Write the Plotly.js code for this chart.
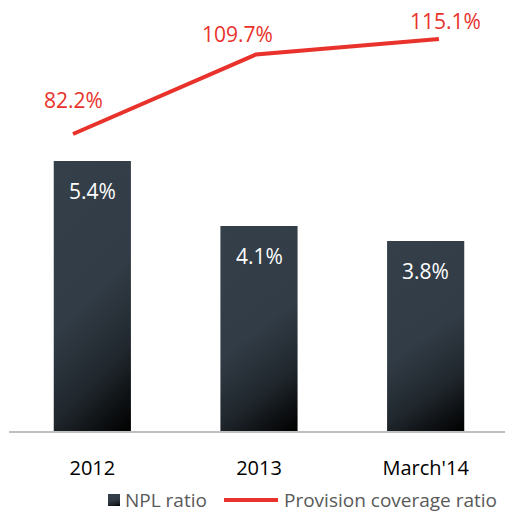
<!DOCTYPE html>
<html>
<head>
<meta charset="utf-8">
<script src="https://cdn.plot.ly/plotly-3.0.1.min.js"></script>
<style>
html,body{margin:0;padding:0;overflow:hidden;background:#fff;width:505px;height:513px;}
#chart{width:509px;height:513px;}
</style>
</head>
<body>
<div id="chart"></div>
<script>
// ---- data ----
const categories = ['2012', '2013', "March'14"];
const nplRatio = [5.4, 4.1, 3.8];
const provisionCoverage = [82.2, 109.7, 115.1];
const nplLabels = ['5.4%', '4.1%', '3.8%'];
const provisionLabels = ['82.2%', '109.7%', '115.1%'];

// ---- label placement (pixel offsets, style only) ----
const provisionLabelShift = [[0, 34], [-18, 21], [7, 18]];
const nplLabelShift = -30;

const FONT = '"Open Sans", "DejaVu Sans", sans-serif';
const RED = '#e8322b';

const traces = [
  {
    type: 'bar', name: 'NPL ratio', x: categories, y: nplRatio,
    xaxis: 'x', yaxis: 'y',
    marker: {color: '#2c353e'},
    hoverinfo: 'none'
  },
  {
    type: 'scatter', mode: 'lines', name: 'Provision coverage ratio',
    x: categories, y: provisionCoverage, xaxis: 'x2', yaxis: 'y2',
    line: {color: RED, width: 4},
    hoverinfo: 'none'
  }
];

const annotations = [];
categories.forEach((c, i) => {
  annotations.push({
    x: i, y: provisionCoverage[i], xref: 'x2', yref: 'y2',
    text: provisionLabels[i], showarrow: false,
    xanchor: 'center', yanchor: 'middle',
    xshift: provisionLabelShift[i][0], yshift: provisionLabelShift[i][1],
    font: {family: FONT, size: 21, color: RED}
  });
  annotations.push({
    x: i, y: nplRatio[i], xref: 'x', yref: 'y',
    text: nplLabels[i], showarrow: false,
    xanchor: 'center', yanchor: 'middle', yshift: nplLabelShift,
    font: {family: FONT, size: 21, color: '#ffffff'}
  });
});

const layout = {
  width: 509, height: 513,
  margin: {l: 9, r: 0, t: 10, b: 82},
  paper_bgcolor: '#fff', plot_bgcolor: '#fff',
  font: {family: FONT},
  showlegend: true,
  bargap: 0.537,
  xaxis: {
    type: 'category', range: [-0.5, 2.5], fixedrange: true,
    showline: true, linecolor: '#bfbfbf', linewidth: 1.5,
    ticks: 'outside', ticklen: 18, tickcolor: 'rgba(0,0,0,0)',
    tickfont: {family: FONT, size: 20, color: '#000'},
    showgrid: false, zeroline: false
  },
  xaxis2: {
    type: 'category', overlaying: 'x', range: [-0.35, 2.383],
    visible: false, fixedrange: true
  },
  yaxis: {range: [0, 8.42], visible: false, fixedrange: true},
  yaxis2: {overlaying: 'y', range: [-20.6, 125.1], visible: false, fixedrange: true},
  legend: {
    orientation: 'h', x: 0.17, xanchor: 'left',
    yref: 'container', y: 0.025, yanchor: 'middle',
    font: {family: FONT, size: 19, color: '#595959'},
    itemwidth: 30, tracegroupgap: 0, bgcolor: 'rgba(0,0,0,0)'
  },
  annotations: annotations
};

Plotly.newPlot('chart', traces, layout, {staticPlot: true, displayModeBar: false}).then(gd => {
  const svg = gd.querySelector('svg.main-svg');
  const ns = 'http://www.w3.org/2000/svg';
  let defs = svg.querySelector('defs');
  if (!defs) { defs = document.createElementNS(ns, 'defs'); svg.insertBefore(defs, svg.firstChild); }
  const grad = document.createElementNS(ns, 'linearGradient');
  grad.setAttribute('id', 'barGrad');
  grad.setAttribute('x1', '0'); grad.setAttribute('y1', '0');
  grad.setAttribute('x2', '0.339'); grad.setAttribute('y2', '1.188');
  [['0', '#343f49'], ['0.5', '#323c46'], ['0.75', '#20272d'], ['1', '#000000']].forEach(([o, c]) => {
    const s = document.createElementNS(ns, 'stop');
    s.setAttribute('offset', o); s.setAttribute('stop-color', c);
    grad.appendChild(s);
  });
  defs.appendChild(grad);
  gd.querySelectorAll('.bars .point path').forEach(p => { p.style.fill = 'url(#barGrad)'; });

  // legend styling to match the reference (tighter symbol gap, longer line sample)
  const items = gd.querySelectorAll('.legend .traces');
  const parseT = el => {
    const m = /translate\(\s*([-\d.]+)[ ,]+([-\d.]+)\s*\)/.exec(el.getAttribute('transform') || '');
    return m ? [parseFloat(m[1]), parseFloat(m[2])] : [0, 0];
  };
  if (items[0]) {
    items[0].querySelectorAll('.legendpoints path').forEach(p => { p.style.fill = 'url(#barGrad)'; });
    const t0 = items[0].querySelector('text.legendtext');
    if (t0) t0.setAttribute('x', '31');
  }
  if (items[1] && items[0]) {
    const [x0, y0] = parseT(items[0]);
    items[1].setAttribute('transform', 'translate(' + (x0 + 121) + ',' + y0 + ')');
    const lp = items[1].querySelector('.legendlines path');
    if (lp) lp.setAttribute('d', 'M9,0h54');
    const tx = items[1].querySelector('text.legendtext');
    if (tx) tx.setAttribute('x', '69');
  }
  const lc = gd.querySelector('.legend');
  if (lc) lc.querySelectorAll('[clip-path]').forEach(e => e.removeAttribute('clip-path'));
});
</script>
</body>
</html>
